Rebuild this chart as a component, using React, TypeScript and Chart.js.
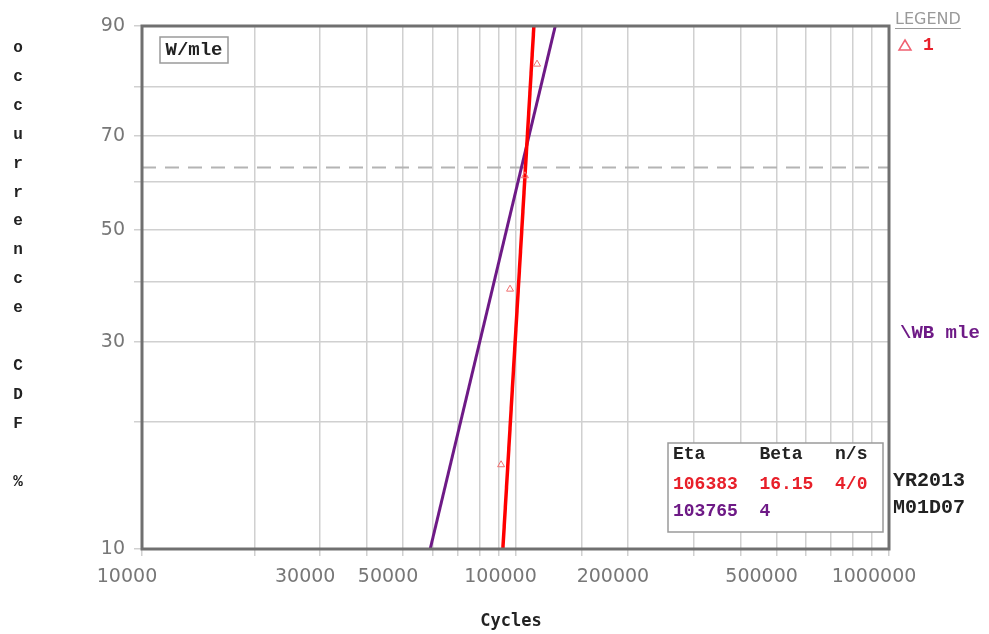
import React, { useEffect, useRef } from 'react';
import { Chart, registerables, Scale } from 'chart.js';

Chart.register(...registerables);

// ---------- data ----------
const X_MIN = 10000;
const X_MAX = 1000000;
const X_LABELS = [10000, 30000, 50000, 100000, 200000, 500000, 1000000];
const Y_MIN = 10;
const Y_MAX = 90;
const Y_GRID = [10, 20, 30, 40, 50, 60, 70, 80, 90];
const Y_LABELS = [10, 30, 50, 70, 90];

const RED_LINE_X = [92500, 112000];
const RED_LINE_Y = [10, 90];
const PURPLE_LINE_X = [59100, 127800];
const PURPLE_LINE_Y = [10, 90];
const POINT_X = [91500, 96700, 106000, 114200];
const POINT_Y = [15.9, 38.6, 61.4, 84.1];
const CHAR_LIFE_X = [10000, 1000000];
const CHAR_LIFE_Y = [63.2, 63.2];

const TABLE_HEADER = 'Eta     Beta   n/s';
const TABLE_RED = '106383  16.15  4/0';
const TABLE_PURPLE = '103765  4';
const Y_TITLE = 'occurrence CDF %';
const X_TITLE = 'Cycles';
const FIT_LABEL = 'W/mle';
const LEGEND_TITLE = 'LEGEND';
const LEGEND_ITEM = '1';
const LINE_LABEL = '\\WB mle';
const DATE_LINES = ['YR2013', 'M01D07'];

const RED = '#ff0000';
const RED_TEXT = '#e8202a';
const PURPLE = '#6e1a86';

// Weibull probability transform
const tf = (p: number) => Math.log(-Math.log(1 - p / 100));

class WeibullScale extends Scale {
  static id = 'weibull';
  static defaults = {};
  parse(raw: any) {
    return raw === null || raw === undefined ? null : Number(raw);
  }
  determineDataLimits() {
    (this as any).min = Number((this as any).options.min);
    (this as any).max = Number((this as any).options.max);
  }
  buildTicks() {
    return Y_GRID.map((v) => ({ value: v }));
  }
  getLabelForValue(v: number) {
    return String(v);
  }
  configure() {
    super.configure();
    (this as any)._tmin = tf((this as any).min);
    (this as any)._tmax = tf((this as any).max);
  }
  getPixelForValue(v: number) {
    const a = (this as any)._tmin;
    const b = (this as any)._tmax;
    return (this as any).getPixelForDecimal((tf(v) - a) / (b - a));
  }
  getValueForPixel(px: number) {
    const a = (this as any)._tmin;
    const b = (this as any)._tmax;
    const t = a + (this as any).getDecimalForPixel(px) * (b - a);
    return 100 * (1 - Math.exp(-Math.exp(t)));
  }
}
Chart.register(WeibullScale as any);

const zeroPadding = (s: any) => {
  s.paddingTop = 0;
  s.paddingBottom = 0;
  s.paddingLeft = 0;
  s.paddingRight = 0;
};

const annotations = {
  id: 'annotations',
  afterDraw(chart: any) {
    const { ctx, chartArea } = chart;
    const { left, top, right, bottom } = chartArea;
    ctx.save();
    // frame
    ctx.strokeStyle = '#707070';
    ctx.lineWidth = 3;
    ctx.strokeRect(left, top, right - left, bottom - top);

    ctx.textBaseline = 'middle';
    // vertical y title
    ctx.fillStyle = '#222';
    ctx.font = 'bold 16px "Liberation Mono"';
    ctx.textAlign = 'center';
    Y_TITLE.split('').forEach((ch, i) => {
      ctx.fillText(ch, 18, 48 + i * 28.9);
    });

    // x title
    ctx.font = 'bold 17px "DejaVu Sans Mono"';
    ctx.fillText(X_TITLE, 511, 622);

    // W/mle box
    ctx.fillStyle = '#fff';
    ctx.fillRect(160, 37, 68, 26);
    ctx.strokeStyle = '#9a9a9a';
    ctx.lineWidth = 1.5;
    ctx.strokeRect(160, 37, 68, 26);
    ctx.fillStyle = '#222';
    ctx.font = 'bold 19px "Liberation Mono"';
    ctx.fillText(FIT_LABEL, 194, 50);

    // table box
    ctx.fillStyle = '#fff';
    ctx.fillRect(668, 443, 215, 89);
    ctx.strokeStyle = '#9a9a9a';
    ctx.strokeRect(668, 443, 215, 89);
    ctx.textAlign = 'left';
    ctx.font = 'bold 18px "Liberation Mono"';
    ctx.fillStyle = '#222';
    ctx.fillText(TABLE_HEADER, 673, 454);
    ctx.fillStyle = RED_TEXT;
    ctx.fillText(TABLE_RED, 673, 484);
    ctx.fillStyle = PURPLE;
    ctx.fillText(TABLE_PURPLE, 673, 511);

    // right side texts
    ctx.font = '16px "DejaVu Sans"';
    ctx.fillStyle = '#9a9a9a';
    ctx.fillText(LEGEND_TITLE, 895, 20);
    const lw = ctx.measureText(LEGEND_TITLE).width;
    ctx.strokeStyle = '#9a9a9a';
    ctx.lineWidth = 1;
    ctx.beginPath();
    ctx.moveTo(895, 28.5);
    ctx.lineTo(895 + lw, 28.5);
    ctx.stroke();

    // legend triangle
    ctx.strokeStyle = '#f06070';
    ctx.lineWidth = 1.5;
    ctx.beginPath();
    ctx.moveTo(905, 40);
    ctx.lineTo(911, 50);
    ctx.lineTo(899, 50);
    ctx.closePath();
    ctx.stroke();
    ctx.fillStyle = RED_TEXT;
    ctx.font = 'bold 18px "Liberation Mono"';
    ctx.fillText(LEGEND_ITEM, 923, 45);

    ctx.fillStyle = PURPLE;
    ctx.font = 'bold 19px "Liberation Mono"';
    ctx.fillText(LINE_LABEL, 900, 333);

    ctx.fillStyle = '#222';
    ctx.font = 'bold 20px "Liberation Mono"';
    ctx.fillText(DATE_LINES[0], 893, 481);
    ctx.fillText(DATE_LINES[1], 893, 508);
    ctx.restore();
  },
};

export default function App() {
  const ref = useRef<HTMLCanvasElement | null>(null);
  useEffect(() => {
    if (!ref.current) return;
    const toXY = (xs: number[], ys: number[]) => xs.map((x, i) => ({ x, y: ys[i] }));
    const gridColor = '#d0d0d0';
    const tickFont = { family: 'DejaVu Sans', size: 19 };
    const chart = new Chart(ref.current, {
      type: 'scatter',
      data: {
        datasets: [
          {
            label: 'points',
            data: toXY(POINT_X, POINT_Y),
            pointStyle: 'triangle',
            pointRadius: 4,
            borderColor: '#f07070',
            backgroundColor: 'rgba(0,0,0,0)',
            borderWidth: 1,
            showLine: false,
            order: 0,
          },
          {
            label: 'red fit',
            data: toXY(RED_LINE_X, RED_LINE_Y),
            borderColor: RED,
            borderWidth: 3.5,
            pointRadius: 0,
            showLine: true,
            order: 1,
          },
          {
            label: 'purple fit',
            data: toXY(PURPLE_LINE_X, PURPLE_LINE_Y),
            borderColor: PURPLE,
            borderWidth: 3,
            pointRadius: 0,
            showLine: true,
            order: 2,
          },
          {
            label: 'eta',
            data: toXY(CHAR_LIFE_X, CHAR_LIFE_Y),
            borderColor: '#b4b4b4',
            borderWidth: 2,
            borderDash: [14, 9],
            pointRadius: 0,
            showLine: true,
            order: 3,
          },
        ],
      },
      options: {
        animation: false,
        responsive: true,
        maintainAspectRatio: false,
        events: [],
        layout: { padding: { top: 26, right: 100, bottom: 0, left: 0 } },
        plugins: { legend: { display: false }, tooltip: { enabled: false }, title: { display: false } },
        scales: {
          x: {
            type: 'logarithmic',
            min: X_MIN,
            max: X_MAX,
            afterFit: (s: any) => {
              s.height = 85;
              zeroPadding(s);
            },
            border: { display: false },
            grid: { color: gridColor, lineWidth: 1.5, tickLength: 7 },
            ticks: {
              autoSkip: false,
              maxRotation: 0,
              minRotation: 0,
              padding: 10,
              labelOffset: -15,
              color: '#777',
              font: tickFont,
              callback: (v: any) =>
                X_LABELS.some((l) => Math.abs(l - Number(v)) < 1e-6 * l) ? String(Math.round(Number(v))) : '',
            },
          },
          y: {
            type: 'weibull' as any,
            min: Y_MIN,
            max: Y_MAX,
            position: 'left',
            afterFit: (s: any) => {
              s.width = 142;
              zeroPadding(s);
            },
            border: { display: false },
            grid: { color: gridColor, lineWidth: 1.5, tickLength: 8 },
            ticks: {
              padding: 9,
              color: '#777',
              font: tickFont,
              callback: (v: any) => (Y_LABELS.includes(Number(v)) ? String(v) : ''),
            },
          },
        },
      } as any,
      plugins: [annotations],
    });
    return () => chart.destroy();
  }, []);
  return (
    <div style={{ position: 'absolute', left: 0, top: 0, width: 989, height: 634, background: '#fff' }}>
      <canvas ref={ref} />
    </div>
  );
}
